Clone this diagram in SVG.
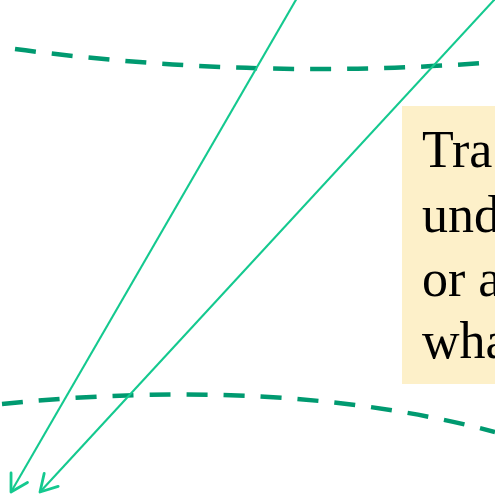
<svg xmlns="http://www.w3.org/2000/svg" width="495" height="494" viewBox="0 0 495 494">
<style>
.dash{fill:none;stroke:#009a70;stroke-width:4.5;stroke-dasharray:21 16}
.ray{fill:none;stroke:#14c98f;stroke-width:2.1}
.lbl{font-family:"Liberation Serif","Times New Roman",serif;font-size:52px;fill:#000}
</style>
<defs>
<marker id="arr" markerUnits="userSpaceOnUse" markerWidth="40" markerHeight="40" viewBox="-20 -20 40 40" refX="0" refY="0" orient="auto" overflow="visible">
<path d="M-16.5,-9.5 L0,0 L-16.5,9.5" fill="none" stroke="#14c98f" stroke-width="2.8" stroke-linecap="round" stroke-linejoin="round"/>
</marker>
</defs>
<g id="curves">
<path id="top-curve" class="dash" d="M15,49 Q249,80 483,63"/>
<path id="bottom-curve" class="dash" d="M2,404 C100,394 300,380 495,432"/>
</g>
<g id="note">
<rect x="402" y="106" width="100" height="278" fill="#fdf0c9"/>
<text class="lbl" x="422" y="167">Tra</text>
<text class="lbl" x="422" y="232">und</text>
<text class="lbl" x="422" y="296">or a</text>
<text class="lbl" x="422" y="358">wha</text>
</g>
<g id="connectors">
<line class="ray" x1="297" y1="-2" x2="11" y2="492" marker-end="url(#arr)"/>
<line class="ray" x1="495" y1="-1" x2="40" y2="492" marker-end="url(#arr)"/>
</g>
</svg>
